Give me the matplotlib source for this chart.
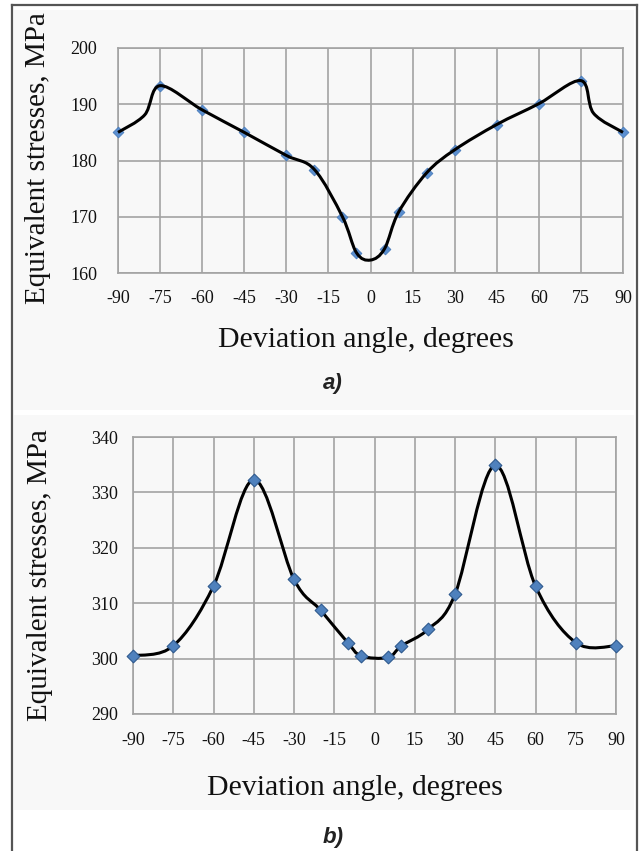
import numpy as np
import matplotlib
matplotlib.use("Agg")
import matplotlib.pyplot as plt
from matplotlib.path import Path
from matplotlib.patches import PathPatch, Rectangle
from matplotlib.lines import Line2D

# ---------------- data ----------------
angles = [-90, -75, -60, -45, -30, -20, -10, -5, 5, 10, 20, 30, 45, 60, 75, 90]
stress_a = [185.0, 193.3, 189.0, 185.0, 180.9, 178.4, 170.0, 163.6,
            164.3, 170.8, 177.8, 181.9, 186.4, 190.1, 194.2, 185.0]
stress_b = [300.5, 302.3, 313.1, 332.3, 314.3, 308.7, 302.9, 300.5,
            300.2, 302.3, 305.3, 311.6, 334.9, 313.1, 302.9, 302.3]
# smoothed-line knots of chart a (markers plus unmarked knots of the drawn curve)
line_a_x = [-90, -80.5, -75, -60, -45, -30, -20, -10, -5, 0, 5, 10, 20, 30, 45, 60, 75, 79.5, 90]
line_a_y = [185.0, 188.1, 193.3, 189.0, 185.0, 180.9, 178.4, 170.0, 163.6, 162.3,
            164.3, 170.8, 177.8, 181.9, 186.4, 190.1, 194.2, 188.4, 185.0]
xticks = [-90, -75, -60, -45, -30, -15, 0, 15, 30, 45, 60, 75, 90]
yticks_a = [160, 170, 180, 190, 200]
yticks_b = [290, 300, 310, 320, 330, 340]
xlabel = "Deviation angle, degrees"
ylabel = "Equivalent stresses, MPa"

W, H = 640, 851
fig = plt.figure(figsize=(W / 100, H / 100), dpi=100)
fig.patch.set_facecolor("white")

def fx(px):
    return px / W

def fy(py):
    return 1 - py / H

# faint chart backgrounds
fig.patches.append(Rectangle((fx(14), fy(410)), fx(620), 400 / H, transform=fig.transFigure,
                             facecolor="#f8f8f8", edgecolor="none", zorder=-10))
fig.patches.append(Rectangle((fx(14), fy(810)), fx(620), 395 / H, transform=fig.transFigure,
                             facecolor="#f8f8f8", edgecolor="none", zorder=-10))
# frame
for (x0, y0, x1, y1) in [(11.5, 5, 11.5, 851), (637, 5, 637, 851), (11.5, 5, 637, 5)]:
    fig.lines.append(Line2D([fx(x0), fx(x1)], [fy(y0), fy(y1)], transform=fig.transFigure,
                            color="#555555", lw=1.6, zorder=-5))

serif = ["Liberation Serif", "DejaVu Serif"]
grid_c = "#a3a3a3"


def smooth_path(xs, ys):
    pts = np.column_stack([xs, ys]).astype(float)
    n = len(pts)
    verts = [pts[0]]
    codes = [Path.MOVETO]
    for i in range(n - 1):
        p0 = pts[max(i - 1, 0)]
        p1 = pts[i]
        p2 = pts[i + 1]
        p3 = pts[min(i + 2, n - 1)]
        c1 = p1 + (p2 - p0) / 6.0
        c2 = p2 - (p3 - p1) / 6.0
        verts += [c1, c2, p2]
        codes += [Path.CURVE4] * 3
    return Path(verts, codes)


def make_axes(rect_px, ylim, yticks, ypad, xpad):
    l, t, r, b = rect_px
    ax = fig.add_axes([fx(l), fy(b), (r - l) / W, (b - t) / H])
    ax.set_zorder(5)
    ax.set_facecolor("none")
    ax.set_xlim(-90, 90)
    ax.set_ylim(*ylim)
    ax.set_xticks(xticks)
    ax.set_xticklabels([str(v) for v in xticks])
    ax.set_yticks(yticks)
    ax.set_yticklabels([str(v) for v in yticks])
    ax.grid(True, color=grid_c, lw=1.2)
    ax.set_axisbelow(True)
    for s in ax.spines.values():
        s.set_color(grid_c)
        s.set_linewidth(1.2)
    ax.tick_params(length=0, colors="#111111")
    ax.tick_params(axis="y", pad=ypad)
    ax.tick_params(axis="x", pad=xpad)
    for lab in ax.get_xticklabels() + ax.get_yticklabels():
        lab.set_family(serif)
        lab.set_fontsize(13)
    return ax


# ---------------- chart a ----------------
ax1 = make_axes((118, 48, 623, 273), (160, 200), yticks_a, 15, 12)
ax1.scatter(angles, stress_a, marker="D", s=30, color="#5b8fd0", edgecolor="#4a7cbb",
            linewidths=0.6, zorder=3, clip_on=False)
ax1.add_patch(PathPatch(smooth_path(line_a_x, line_a_y), facecolor="none", edgecolor="black",
                        lw=2.2, zorder=4, clip_on=False))

fig.text(fx(366), fy(340), xlabel, ha="center", va="center", fontsize=21.5, family=serif, color="#111111")
fig.text(fx(38), fy(158), ylabel, ha="center", va="center", rotation=90, fontsize=21,
         family=serif, color="#111111")
fig.text(fx(333), fy(383), "a)", ha="center", va="center", fontsize=16, fontweight="bold",
         fontstyle="italic", family=["Liberation Sans", "DejaVu Sans"], color="#222222")

# ---------------- chart b ----------------
ax2 = make_axes((133, 437, 616, 714), (290, 340), yticks_b, 11, 13)
ax2.add_patch(PathPatch(smooth_path(angles, stress_b), facecolor="none", edgecolor="black",
                        lw=2.2, zorder=3, clip_on=False))
ax2.scatter(angles, stress_b, marker="D", s=42, color="#4f81bd", edgecolor="#2f5a8f",
            linewidths=0.8, zorder=4, clip_on=False)

fig.text(fx(355), fy(788), xlabel, ha="center", va="center", fontsize=21.5, family=serif, color="#111111")
fig.text(fx(40), fy(575), ylabel, ha="center", va="center", rotation=90, fontsize=21,
         family=serif, color="#111111")
fig.text(fx(333), fy(837), "b)", ha="center", va="center", fontsize=16, fontweight="bold",
         fontstyle="italic", family=["Liberation Sans", "DejaVu Sans"], color="#222222")

fig.savefig("out.png", dpi=100, facecolor="white")
